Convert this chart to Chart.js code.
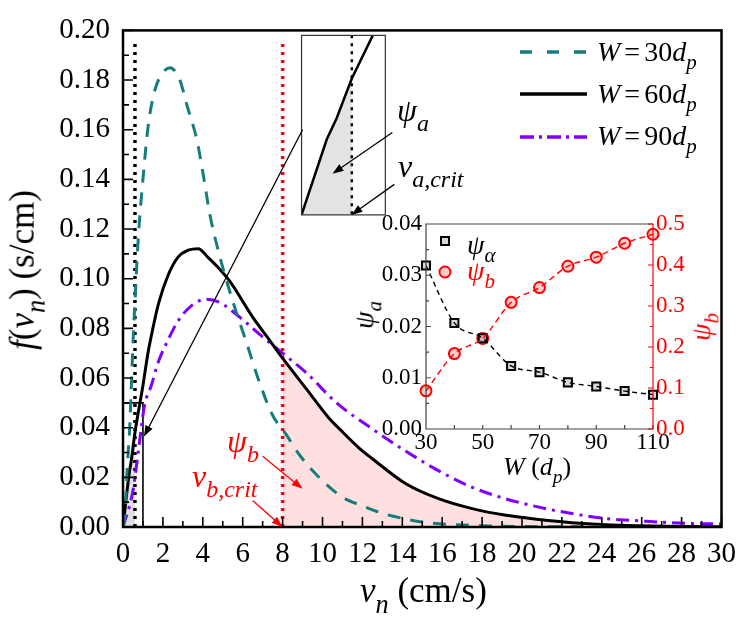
<!DOCTYPE html>
<html>
<head>
<meta charset="utf-8">
<script src="https://cdn.jsdelivr.net/npm/chart.js@4.4.1/dist/chart.umd.min.js"></script>
<style>
  html, body { margin: 0; padding: 0; background: #fff; }
  #wrap { position: relative; width: 746px; height: 621px; overflow: hidden;
          font-family: "Times New Roman", Times, "Liberation Serif", "Nimbus Roman", "FreeSerif", "Noto Serif", "DejaVu Serif", serif; }
  #main { position: absolute; left: 0; top: 0; }
  #inset { position: absolute; left: 340px; top: 200px; }
  .t { position: absolute; white-space: nowrap; line-height: 1; color: #000; }
  .t i { font-style: italic; }
  .sb { font-size: 0.75em; vertical-align: -0.4em; line-height: 1; font-style: italic; }
  .rot { transform: translate(-50%, -50%) rotate(-90deg); }
  .red { color: #f00; }
</style>
</head>
<body>
<div id="wrap">
  <canvas id="main" width="746" height="621"></canvas>
  <canvas id="inset" width="406" height="300"></canvas>

  <!-- main axis titles -->
  <div class="t rot" style="left:27px;top:270px;font-size:35px"><i>f</i>(<i>v</i><span class="sb">n</span>) (s/cm)</div>
  <div class="t" style="left:360px;top:573px;font-size:35px"><i>v</i><span class="sb">n</span> (cm/s)</div>

  <!-- legend -->
  <div class="t" style="left:597px;top:38px;font-size:28px"><i>W</i><span style="margin:0 4px">=</span>30<i>d</i><span class="sb">p</span></div>
  <div class="t" style="left:597px;top:80px;font-size:28px"><i>W</i><span style="margin:0 4px">=</span>60<i>d</i><span class="sb">p</span></div>
  <div class="t" style="left:597px;top:122px;font-size:28px"><i>W</i><span style="margin:0 4px">=</span>90<i>d</i><span class="sb">p</span></div>

  <!-- annotations -->
  <div class="t" style="left:397px;top:94px;font-size:32px"><i>ψ</i><span class="sb">a</span></div>
  <div class="t" style="left:398px;top:150px;font-size:32px"><i>v</i><span class="sb">a,crit</span></div>
  <div class="t red" style="left:227px;top:425px;font-size:32px"><i>ψ</i><span class="sb">b</span></div>
  <div class="t red" style="left:192px;top:460px;font-size:32px"><i>v</i><span class="sb">b,crit</span></div>

  <!-- inset texts -->
  <div class="t" style="left:467px;top:231px;font-size:28px"><i>ψ</i><span class="sb">α</span></div>
  <div class="t red" style="left:467px;top:257px;font-size:28px"><i>ψ</i><span class="sb">b</span></div>
  <div class="t rot" style="left:368px;top:315px;font-size:28px"><i>ψ</i><span class="sb">a</span></div>
  <div class="t rot red" style="left:705px;top:327px;font-size:28px"><i>ψ</i><span class="sb">b</span></div>
  <div class="t" style="left:503px;top:454px;font-size:26px"><i>W</i> (<i>d</i><span class="sb">p</span>)</div>
</div>

<script>
// main panel: f(v_n) for three channel widths
const W30_V = [0, 0.1, 0.22, 0.33, 0.42, 0.5, 0.6, 0.77, 1.0, 1.27, 1.6, 2.0, 2.35, 2.85, 3.2, 3.7, 4.0, 4.35, 4.85, 5.5, 6.2, 6.85, 7.5, 8.2, 8.85, 10, 11, 12, 13, 14, 15, 16, 18, 20, 22, 24];
const W30_F = [0, 0.005, 0.025, 0.039, 0.057, 0.074, 0.091, 0.117, 0.14, 0.162, 0.176, 0.183, 0.185, 0.18, 0.17, 0.156, 0.143, 0.126, 0.109, 0.091, 0.074, 0.058, 0.045, 0.037, 0.029, 0.0186, 0.012, 0.0085, 0.0055, 0.0035, 0.002, 0.0012, 0.0005, 0.0002, 0.0001, 0.00005];

const W60_V = [0, 0.3, 0.42, 0.6, 0.85, 1.0, 1.25, 1.42, 1.77, 2.27, 2.77, 3.27, 3.77, 4.27, 4.77, 5.35, 6.5, 7.35, 8, 9.2, 10.35, 10.85, 11.85, 12.5, 14.2, 15.85, 17.5, 19.2, 20.85, 22.5, 24.2, 25.85, 28, 30];
const W60_F = [0, 0.021, 0.027, 0.038, 0.05, 0.057, 0.07, 0.077, 0.0897, 0.1016, 0.1088, 0.1115, 0.1121, 0.1085, 0.1045, 0.099, 0.0845, 0.0752, 0.068, 0.0555, 0.0436, 0.0395, 0.0317, 0.0275, 0.0173, 0.0113, 0.0074, 0.0047, 0.003, 0.0017, 0.0009, 0.0005, 0.0002, 0.0001];

const W90_V = [0, 0.5, 0.83, 1.08, 1.42, 1.75, 2.25, 2.77, 3.52, 4.18, 4.85, 5.85, 7, 8, 9.2, 10.7, 12.5, 14.2, 15.85, 17.5, 19.2, 20.85, 22.5, 24.2, 25.85, 27.5, 30];
const W90_F = [0, 0.0146, 0.0344, 0.049, 0.057, 0.066, 0.0752, 0.0831, 0.0897, 0.0917, 0.0904, 0.0845, 0.0766, 0.07, 0.062, 0.05, 0.0395, 0.0304, 0.0225, 0.016, 0.0113, 0.008, 0.0054, 0.0034, 0.0025, 0.0017, 0.0012];

const V_A_CRIT = 0.6;
const V_B_CRIT = 8;
const ZOOM_SRC = { v: 1, f: 0.05 };   // region shown in the magnifier

// inset: psi_a and psi_b versus W
const W_DP = [30, 40, 50, 60, 70, 80, 90, 100, 110];
const PSI_A = [0.0319, 0.0207, 0.0177, 0.0123, 0.0111, 0.0091, 0.0083, 0.0074, 0.0067];
const PSI_B = [0.093, 0.184, 0.221, 0.309, 0.345, 0.397, 0.419, 0.453, 0.475];

const TEAL = "#177c7c";
const PURPLE = "#7f00ff";
const SERIF = "'Times New Roman', Times, 'Liberation Serif', 'Nimbus Roman', FreeSerif, 'Noto Serif', 'DejaVu Serif', serif";

const pts = (xs, ys) => xs.map((x, i) => ({ x, y: ys[i] }));
const w60 = pts(W60_V, W60_F);

function arrow(ctx, x1, y1, x2, y2, color, width) {
  const ang = Math.atan2(y2 - y1, x2 - x1);
  const hl = 11, hw = 4;
  ctx.strokeStyle = color;
  ctx.fillStyle = color;
  ctx.lineWidth = width;
  ctx.setLineDash([]);
  ctx.beginPath();
  ctx.moveTo(x1, y1);
  ctx.lineTo(x2 - Math.cos(ang) * hl * 0.8, y2 - Math.sin(ang) * hl * 0.8);
  ctx.stroke();
  ctx.beginPath();
  ctx.moveTo(x2, y2);
  ctx.lineTo(x2 - Math.cos(ang) * hl - Math.sin(ang) * hw, y2 - Math.sin(ang) * hl + Math.cos(ang) * hw);
  ctx.lineTo(x2 - Math.cos(ang) * hl + Math.sin(ang) * hw, y2 - Math.sin(ang) * hl - Math.cos(ang) * hw);
  ctx.closePath();
  ctx.fill();
}

const mainDecor = {
  id: "mainDecor",
  afterDraw(chart) {
    const { ctx, chartArea: a, scales: { x, y } } = chart;
    const X = (v) => x.getPixelForValue(v);
    const Y = (f) => y.getPixelForValue(f);
    ctx.save();

    // frame
    ctx.strokeStyle = "#000";
    ctx.lineWidth = 2.5;
    ctx.setLineDash([]);
    ctx.strokeRect(a.left, a.top, a.right - a.left, a.bottom - a.top);

    // inward ticks
    ctx.lineWidth = 1.6;
    ctx.beginPath();
    for (let v = 0; v <= 30; v++) {
      const len = v % 2 === 0 ? 10 : 6;
      ctx.moveTo(X(v), a.bottom);
      ctx.lineTo(X(v), a.bottom - len);
    }
    for (let i = 0; i <= 20; i++) {
      const len = i % 2 === 0 ? 10 : 6;
      ctx.moveTo(a.left, Y(i * 0.01));
      ctx.lineTo(a.left + len, Y(i * 0.01));
    }
    ctx.stroke();

    // magnifier box
    const bx0 = X(8.95), bx1 = X(13.15), byB = Y(0.1257), byT = Y(0.198);
    const mx = (v) => bx0 + (v / ZOOM_SRC.v) * (bx1 - bx0);
    const my = (f) => byB - (f / ZOOM_SRC.f) * (byB - byT);
    ctx.save();
    ctx.beginPath();
    ctx.rect(bx0, byT, bx1 - bx0, byB - byT);
    ctx.clip();
    ctx.fillStyle = "#fff";
    ctx.fillRect(bx0, byT, bx1 - bx0, byB - byT);
    ctx.beginPath();
    ctx.moveTo(mx(0), my(0));
    w60.filter((p) => p.x <= V_A_CRIT).forEach((p) => ctx.lineTo(mx(p.x), my(p.y)));
    ctx.lineTo(mx(V_A_CRIT), my(0));
    ctx.closePath();
    ctx.fillStyle = "#e3e3e3";
    ctx.fill();
    ctx.beginPath();
    w60.filter((p) => p.x <= 1.3).forEach((p, i) => (i ? ctx.lineTo(mx(p.x), my(p.y)) : ctx.moveTo(mx(p.x), my(p.y))));
    ctx.strokeStyle = "#000";
    ctx.lineWidth = 2.5;
    ctx.stroke();
    ctx.beginPath();
    ctx.setLineDash([3, 5]);
    ctx.moveTo(mx(V_A_CRIT), byT);
    ctx.lineTo(mx(V_A_CRIT), byB);
    ctx.stroke();
    ctx.restore();
    ctx.strokeStyle = "#333";
    ctx.lineWidth = 1.2;
    ctx.setLineDash([]);
    ctx.strokeRect(bx0, byT, bx1 - bx0, byB - byT);

    // arrows
    arrow(ctx, X(9.0), Y(0.16), X(1.05), Y(0.0364), "#000", 1.3);
    arrow(ctx, X(13.5), Y(0.1589), X(10.5), Y(0.1423), "#000", 1.3);
    arrow(ctx, X(13.6), Y(0.138), X(11.45), Y(0.1257), "#000", 1.3);
    arrow(ctx, X(7.0), Y(0.0285), X(9.0), Y(0.0154), "#f00", 1.3);
    arrow(ctx, X(6.5), Y(0.0107), X(8.0), Y(0), "#f00", 1.3);

    // legend samples
    const leg = [
      { c: TEAL, d: [12, 15], y: 52, w: 3.5 },
      { c: "#000", d: [], y: 94, w: 3.5 },
      { c: PURPLE, d: [14, 5, 3, 5], y: 137, w: 3.5 },
    ];
    leg.forEach((l) => {
      ctx.strokeStyle = l.c;
      ctx.lineWidth = l.w;
      ctx.setLineDash(l.d);
      ctx.beginPath();
      ctx.moveTo(520, l.y);
      ctx.lineTo(587, l.y);
      ctx.stroke();
    });
    ctx.restore();
  },
};

const tickFont = { family: SERIF, size: 29 };

new Chart(document.getElementById("main"), {
  type: "line",
  data: {
    datasets: [
      { data: pts(W30_V, W30_F), borderColor: TEAL, borderWidth: 3, borderDash: [13, 10], cubicInterpolationMode: "monotone", order: 1 },
      { data: w60, borderColor: "#000", borderWidth: 3, cubicInterpolationMode: "monotone", order: 1 },
      { data: pts(W90_V, W90_F), borderColor: PURPLE, borderWidth: 3, borderDash: [13, 6, 3, 6], cubicInterpolationMode: "monotone", order: 1 },
      { data: [{ x: V_A_CRIT, y: 0 }, { x: V_A_CRIT, y: 0.196 }], borderColor: "#000", borderWidth: 3.5, borderDash: [3, 5], order: 2 },
      { data: [{ x: V_B_CRIT, y: 0 }, { x: V_B_CRIT, y: 0.196 }], borderColor: "#f00", borderWidth: 3.5, borderDash: [3, 5], order: 2 },
      { data: [{ x: 0, y: ZOOM_SRC.f }, { x: ZOOM_SRC.v, y: ZOOM_SRC.f }, { x: ZOOM_SRC.v, y: 0 }], borderColor: "#000", borderWidth: 1.6, order: 2 },
      { data: w60.filter((p) => p.x >= V_B_CRIT), borderWidth: 0, fill: "origin", backgroundColor: "rgba(255,0,0,0.12)", cubicInterpolationMode: "monotone", order: 5 },
      { data: w60.filter((p) => p.x <= V_A_CRIT), borderWidth: 0, fill: "origin", backgroundColor: "#e0e0e0", order: 5 },
    ],
  },
  options: {
    responsive: false,
    animation: false,
    events: [],
    elements: { point: { radius: 0 } },
    layout: { padding: { top: 21, right: 21, left: 0, bottom: 0 } },
    plugins: { legend: { display: false }, tooltip: { enabled: false } },
    scales: {
      x: {
        type: "linear", min: 0, max: 30,
        afterFit: (s) => { s.height = 94; },
        grid: { display: false, drawTicks: false },
        border: { display: false },
        ticks: { stepSize: 1, autoSkip: false, maxRotation: 0, padding: 10, color: "#000", font: tickFont,
          callback: (v) => (v % 2 === 0 ? v : "") },
      },
      y: {
        type: "linear", min: 0, max: 0.2,
        afterFit: (s) => { s.width = 123; },
        grid: { display: false, drawTicks: false },
        border: { display: false },
        ticks: { stepSize: 0.01, autoSkip: false, padding: 13, color: "#000", font: tickFont,
          callback: (v) => (Math.round(v * 100) % 2 === 0 ? v.toFixed(2) : "") },
      },
    },
  },
  plugins: [mainDecor],
});

const insetDecor = {
  id: "insetDecor",
  afterDraw(chart) {
    const { ctx, chartArea: a, scales: { x, y, y1 } } = chart;
    ctx.save();
    ctx.setLineDash([]);
    ctx.lineWidth = 1.2;
    ctx.strokeStyle = "#444";
    ctx.beginPath();
    ctx.moveTo(a.right, a.top);
    ctx.lineTo(a.left, a.top);
    ctx.lineTo(a.left, a.bottom);
    ctx.lineTo(a.right, a.bottom);
    for (let w = 30; w <= 110; w += 10) {
      ctx.moveTo(x.getPixelForValue(w), a.bottom);
      ctx.lineTo(x.getPixelForValue(w), a.bottom - 4);
    }
    for (let i = 0; i <= 8; i++) {
      const py = y.getPixelForValue(i * 0.005);
      ctx.moveTo(a.left, py);
      ctx.lineTo(a.left + (i % 2 ? 3 : 5), py);
    }
    ctx.stroke();
    ctx.strokeStyle = "#f00";
    ctx.beginPath();
    ctx.moveTo(a.right, a.top);
    ctx.lineTo(a.right, a.bottom);
    for (let i = 0; i <= 10; i++) {
      const py = y1.getPixelForValue(i * 0.05);
      ctx.moveTo(a.right, py);
      ctx.lineTo(a.right - (i % 2 ? 3 : 5), py);
    }
    ctx.stroke();

    // legend markers
    ctx.lineWidth = 2;
    ctx.fillStyle = "rgba(0,0,0,0.15)";
    ctx.strokeStyle = "#000";
    ctx.fillRect(101, 37, 8, 8);
    ctx.strokeRect(101, 37, 8, 8);
    ctx.beginPath();
    ctx.arc(105, 72, 5.5, 0, Math.PI * 2);
    ctx.fillStyle = "rgba(255,0,0,0.2)";
    ctx.strokeStyle = "#f00";
    ctx.fill();
    ctx.stroke();
    ctx.restore();
  },
};

const insetFont = { family: SERIF, size: 23 };

new Chart(document.getElementById("inset"), {
  type: "line",
  data: {
    labels: W_DP,
    datasets: [
      { data: pts(W_DP, PSI_A), yAxisID: "y", borderColor: "#000", borderWidth: 1.4, borderDash: [5, 4], pointRadius: 0, cubicInterpolationMode: "monotone" },
      { data: pts(W_DP, PSI_B), yAxisID: "y1", borderColor: "#f00", borderWidth: 1.4, borderDash: [6, 4], pointRadius: 0, cubicInterpolationMode: "monotone" },
      { data: pts(W_DP, PSI_A), yAxisID: "y", showLine: false, pointStyle: "rect", pointRadius: 5.7, pointBorderWidth: 2,
        pointBorderColor: "#000", pointBackgroundColor: "rgba(0,0,0,0.15)", clip: false },
      { data: pts(W_DP, PSI_B), yAxisID: "y1", showLine: false, pointStyle: "circle", pointRadius: 5.5, pointBorderWidth: 2,
        pointBorderColor: "#f00", pointBackgroundColor: "rgba(255,0,0,0.2)", clip: false },
    ],
  },
  options: {
    responsive: false,
    animation: false,
    events: [],
    layout: { padding: { top: 24, right: 0, left: 0, bottom: 0 } },
    plugins: { legend: { display: false }, tooltip: { enabled: false } },
    scales: {
      x: {
        type: "linear", min: 30, max: 110,
        afterFit: (s) => { s.height = 71; },
        grid: { display: false, drawTicks: false },
        border: { display: false },
        ticks: { stepSize: 10, autoSkip: false, maxRotation: 0, padding: 0, color: "#000", font: insetFont,
          callback: (v) => ((v - 30) % 20 === 0 ? v : "") },
      },
      y: {
        position: "left", min: 0, max: 0.04,
        afterFit: (s) => { s.width = 86; },
        grid: { display: false, drawTicks: false },
        border: { display: false },
        ticks: { stepSize: 0.01, autoSkip: false, padding: 4, color: "#000", font: insetFont, callback: (v) => v.toFixed(2) },
      },
      y1: {
        position: "right", min: 0, max: 0.5,
        afterFit: (s) => { s.width = 93; },
        grid: { display: false, drawTicks: false },
        border: { display: false },
        ticks: { stepSize: 0.1, autoSkip: false, padding: 3, color: "#f00", font: insetFont, callback: (v) => v.toFixed(1) },
      },
    },
  },
  plugins: [insetDecor],
});
</script>
</body>
</html>
